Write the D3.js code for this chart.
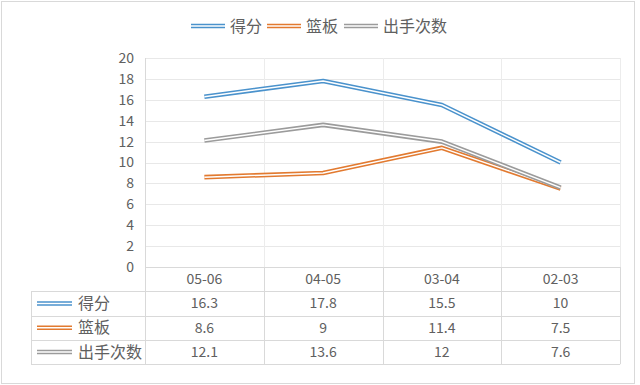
<!DOCTYPE html>
<html>
<head>
<meta charset="utf-8">
<script src="https://cdn.jsdelivr.net/npm/d3@7"></script>
<style>
  body { margin: 0; background: #fff; }
  text { font-family: "Noto Sans CJK SC", "Noto Sans", sans-serif; fill: #606060; }
</style>
</head>
<body>
<svg id="chart" width="640" height="385"></svg>
<script>
// categories and series
let seasons = ["05-06", "04-05", "03-04", "02-03"];
let seriesNames = ["得分", "篮板", "出手次数"];
let points = [16.3, 17.8, 15.5, 10];
let rebounds = [8.6, 9, 11.4, 7.5];
let shots = [12.1, 13.6, 12, 7.6];
let yTicks = [0, 2, 4, 6, 8, 10, 12, 14, 16, 18, 20];

let colors = ["#4a92cc", "#e27a30", "#9b9b9b"];
let seriesValues = [points, rebounds, shots];

let svg = d3.select("#chart");
let margin = { left: 145, right: 20, top: 58 };
let plotBottom = 267;
let tableLeft = 31;
let rowH = 24.3;

// outer frame
svg.append("rect")
    .attr("x", 1.5).attr("y", 1.5)
    .attr("width", 633).attr("height", 382)
    .attr("fill", "#fff")
    .attr("stroke", "#d9d9d9");

let x = d3.scaleBand()
    .domain(seasons)
    .range([margin.left, 640 - margin.right]);

let y = d3.scaleLinear()
    .domain([0, 20])
    .range([plotBottom, margin.top]);

// horizontal grid
svg.append("g").selectAll("line")
    .data(yTicks)
    .enter()
    .append("line")
    .attr("x1", margin.left).attr("x2", 640 - margin.right)
    .attr("y1", d => Math.round(y(d)) + 0.5)
    .attr("y2", d => Math.round(y(d)) + 0.5)
    .attr("stroke", "#e8e8e8");

// y labels
svg.append("g").selectAll("text")
    .data(yTicks)
    .enter()
    .append("text")
    .attr("x", 134)
    .attr("y", d => y(d))
    .attr("dy", "0.35em")
    .attr("text-anchor", "end")
    .style("font-size", "14px")
    .text(d => d);

// vertical lines at band edges (through plot and table)
let edges = seasons.map(s => x(s)).concat([x.range()[1]]);
svg.append("g").selectAll("line")
    .data(edges)
    .enter()
    .append("line")
    .attr("x1", d => Math.round(d) + 0.5).attr("x2", d => Math.round(d) + 0.5)
    .attr("y1", margin.top)
    .attr("y2", plotBottom)
    .attr("stroke", (d, i) => i == 0 ? "#d9d9d9" : "#ececec");

// data table
let table = svg.append("g");
let rowsTop = plotBottom + rowH;
let tableBottom = rowsTop + rowH * 3;

// horizontal borders
table.selectAll("line.h")
    .data(d3.range(5))
    .enter()
    .append("line")
    .attr("class", "h")
    .attr("x1", (d) => d == 0 ? margin.left : tableLeft)
    .attr("x2", x.range()[1])
    .attr("y1", d => Math.round(plotBottom + d * rowH) + 0.5)
    .attr("y2", d => Math.round(plotBottom + d * rowH) + 0.5)
    .attr("stroke", "#d9d9d9");

// vertical borders
table.selectAll("line.v")
    .data(edges)
    .enter()
    .append("line")
    .attr("class", "v")
    .attr("x1", d => Math.round(d) + 0.5).attr("x2", d => Math.round(d) + 0.5)
    .attr("y1", plotBottom)
    .attr("y2", tableBottom)
    .attr("stroke", "#d9d9d9");
table.append("line")
    .attr("x1", tableLeft + 0.5).attr("x2", tableLeft + 0.5)
    .attr("y1", rowsTop).attr("y2", tableBottom)
    .attr("stroke", "#d9d9d9");

// header row
table.selectAll("text.head")
    .data(seasons)
    .enter()
    .append("text")
    .attr("class", "head")
    .attr("x", d => x(d) + x.bandwidth() / 2)
    .attr("y", plotBottom + rowH / 2)
    .attr("dy", "0.35em")
    .attr("text-anchor", "middle")
    .style("font-size", "14px")
    .text(d => d);

function doubleLine(sel, color) {
    sel.append("path").attr("class", "outer")
        .attr("fill", "none").attr("stroke", color)
        .attr("stroke-width", 4.6);
    sel.append("path").attr("class", "inner")
        .attr("fill", "none").attr("stroke", "#fff")
        .attr("stroke-width", 1.5);
}

// value rows
seriesNames.forEach((name, i) => {
    let cy = rowsTop + rowH * i + rowH / 2;
    let key = table.append("g");
    doubleLine(key, colors[i]);
    key.selectAll("path").attr("d", "M37," + cy + "H72");
    table.append("text")
        .attr("x", 78).attr("y", cy).attr("dy", "0.35em")
        .style("font-size", "16px")
        .text(name);
    table.selectAll("text.v" + i)
        .data(seriesValues[i])
        .enter()
        .append("text")
        .attr("class", "v" + i)
        .attr("x", (d, j) => x(seasons[j]) + x.bandwidth() / 2)
        .attr("y", cy).attr("dy", "0.35em")
        .attr("text-anchor", "middle")
        .style("font-size", "14px")
        .text(d => d);
});

// series lines
let line = d3.line()
    .x((d, j) => x(seasons[j]) + x.bandwidth() / 2)
    .y(d => y(d));

seriesValues.forEach((vals, i) => {
    let g = svg.append("g");
    doubleLine(g, colors[i]);
    g.selectAll("path").attr("d", line(vals)).attr("stroke-linejoin", "round");
});

// legend
let legendItems = [
    { name: seriesNames[0], x: 191 },
    { name: seriesNames[1], x: 267 },
    { name: seriesNames[2], x: 344 }
];
let legend = svg.append("g");
legendItems.forEach((it, i) => {
    let g = legend.append("g");
    doubleLine(g, colors[i]);
    g.selectAll("path").attr("d", "M" + it.x + ",26H" + (it.x + 34));
    legend.append("text")
        .attr("x", it.x + 39).attr("y", 26).attr("dy", "0.35em")
        .style("font-size", "16px")
        .text(it.name);
});
</script>
</body>
</html>
